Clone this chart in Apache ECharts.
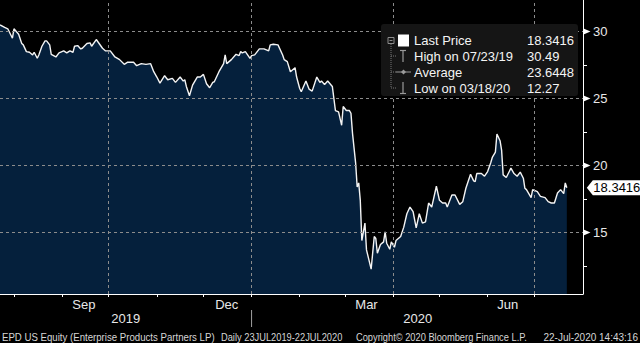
<!DOCTYPE html>
<html>
<head>
<meta charset="utf-8">
<script src="https://cdn.jsdelivr.net/npm/echarts@6/dist/echarts.min.js"></script>
<style>
html,body{margin:0;padding:0;background:#000;}
#chart{width:640px;height:343px;}
</style>
</head>
<body>
<div id="chart"></div>
<script>
// ---- data (EPD US Equity, daily close) ----
const dates = [
'2019-07-23','2019-07-26','2019-07-28','2019-07-31','2019-08-01','2019-08-04','2019-08-06','2019-08-07','2019-08-09','2019-08-11',
'2019-08-13','2019-08-14','2019-08-16','2019-08-17','2019-08-19','2019-08-21','2019-08-22','2019-08-24','2019-08-25','2019-08-28',
'2019-08-30','2019-09-02','2019-09-04','2019-09-06','2019-09-08','2019-09-09','2019-09-11','2019-09-13','2019-09-14','2019-09-17',
'2019-09-19','2019-09-20','2019-09-23','2019-09-27','2019-09-29','2019-10-02','2019-10-05','2019-10-08','2019-10-11','2019-10-13',
'2019-10-17','2019-10-19','2019-10-22','2019-10-25','2019-10-28','2019-10-30','2019-11-01','2019-11-03','2019-11-06','2019-11-08',
'2019-11-11','2019-11-13','2019-11-16','2019-11-18','2019-11-19','2019-11-20','2019-11-22','2019-11-24','2019-11-27','2019-11-29',
'2019-12-01','2019-12-03','2019-12-05','2019-12-07','2019-12-08','2019-12-11','2019-12-14','2019-12-15','2019-12-16','2019-12-19',
'2019-12-22','2019-12-24','2019-12-25','2019-12-26','2019-12-28','2019-12-31','2020-01-01','2020-01-03','2020-01-06','2020-01-09',
'2020-01-12','2020-01-13','2020-01-15','2020-01-18','2020-01-21','2020-01-22','2020-01-24','2020-01-26','2020-01-29','2020-01-30',
'2020-02-01','2020-02-02','2020-02-05','2020-02-07','2020-02-09','2020-02-12','2020-02-14','2020-02-15','2020-02-17','2020-02-19',
'2020-02-22','2020-02-23','2020-02-24','2020-02-26','2020-02-28','2020-02-29','2020-03-02','2020-03-04','2020-03-05','2020-03-06',
'2020-03-08','2020-03-09','2020-03-10','2020-03-11','2020-03-12','2020-03-14','2020-03-15','2020-03-18','2020-03-20','2020-03-21',
'2020-03-22','2020-03-24','2020-03-26','2020-03-27','2020-03-28','2020-03-30','2020-03-31','2020-04-02','2020-04-03','2020-04-06',
'2020-04-08','2020-04-10','2020-04-12','2020-04-14','2020-04-16','2020-04-18','2020-04-20','2020-04-22','2020-04-24','2020-04-26',
'2020-04-29','2020-05-01','2020-05-03','2020-05-05','2020-05-06','2020-05-09','2020-05-11','2020-05-14','2020-05-16','2020-05-18',
'2020-05-21','2020-05-23','2020-05-24','2020-05-25','2020-05-28','2020-05-30','2020-06-01','2020-06-03','2020-06-04','2020-06-06',
'2020-06-07','2020-06-09','2020-06-10','2020-06-11','2020-06-13','2020-06-16','2020-06-18','2020-06-20','2020-06-22','2020-06-24',
'2020-06-25','2020-06-26','2020-06-29','2020-06-30','2020-07-03','2020-07-05','2020-07-08','2020-07-10','2020-07-12','2020-07-14',
'2020-07-16','2020-07-18','2020-07-20','2020-07-21','2020-07-22'
];
const prices = [
30.49,30.3,30.2,29.5,30.2,29.8,29.1,29.0,28.5,28.45,
28.25,28.45,28.0,28.25,28.9,29.3,29.3,29.0,28.3,28.1,
28.4,28.55,28.4,28.55,28.45,28.9,28.95,28.7,28.75,29.1,
29.15,28.9,29.4,28.75,28.55,28.55,28.1,27.9,27.55,27.7,
27.7,27.45,27.6,27.55,27.6,27.0,26.6,26.15,26.7,26.4,
26.5,26.2,26.6,26.3,26.4,25.9,25.2,26.0,26.6,26.6,
26.8,26.1,25.8,26.2,26.25,27.0,27.6,28.25,27.6,27.9,
28.3,28.2,28.5,28.4,28.5,28.0,28.2,28.25,28.7,28.7,
28.55,29.0,29.05,29.0,28.25,27.9,27.75,27.0,27.3,26.6,
25.75,25.5,26.3,25.7,25.55,26.6,26.2,26.3,26.05,26.3,
25.9,25.0,24.1,24.0,23.0,24.4,24.1,24.1,23.9,22.4,
20.2,18.4,18.7,17.4,14.4,15.7,13.7,12.27,14.7,14.55,
13.45,14.1,14.3,15.05,14.2,13.75,14.3,13.9,14.4,14.7,
15.4,16.4,16.9,16.55,15.35,16.4,15.7,15.8,17.2,16.9,
18.45,17.4,17.2,17.2,16.9,17.8,17.8,17.1,17.3,18.3,
19.35,18.85,18.8,19.4,19.4,19.2,19.55,20.2,20.6,21.0,
22.35,21.85,21.15,19.3,19.1,19.8,19.4,19.2,19.5,19.05,
18.3,18.2,17.6,18.2,18.05,17.7,17.6,17.3,17.2,17.2,
17.95,18.2,17.9,18.7,18.3416
];
const yMajorTicks = [15, 20, 25, 30];
const yMinorTicks = [12.5, 17.5, 22.5, 27.5];
const monthStarts = ['2019-08-01','2019-09-01','2019-10-01','2019-11-01','2019-12-01','2020-01-01',
                     '2020-02-01','2020-03-01','2020-04-01','2020-05-01','2020-06-01','2020-07-01'];
const quarterStarts = ['2019-10-01','2020-01-01','2020-04-01','2020-07-01'];
const monthLabelDates = ['2019-09-15','2019-12-16','2020-03-15','2020-06-14'];
const monthLabelNames = ['Sep','Dec','Mar','Jun'];
const yearLabelDates = ['2019-10-12','2020-04-17'];
const yearLabelNames = ['2019','2020'];
const yearBreaks = ['2020-01-01'];
const legendNames = ['Last Price','High on 07/23/19','Average','Low on 03/18/20'];
const legendValues = ['18.3416','30.49','23.6448','12.27'];
const lastPriceText = '18.3416';
const footerTexts = ['EPD US Equity (Enterprise Products Partners LP)','Daily 23JUL2019-22JUL2020',
                     'Copyright\u00a9 2020 Bloomberg Finance L.P.','22-Jul-2020 14:43:16'];

// ---- helpers ----
function ts(s){ const p = s.split('-').map(Number); return new Date(p[0], p[1]-1, p[2]).getTime(); }
const xMin = ts('2019-07-23');
const xMax = ts('2020-08-01') + 10*3600*1000;
const seriesData = dates.map((d,i) => [ts(d), prices[i]]);
const lastPoint = seriesData[seriesData.length-1];
const monthLabelTs = monthLabelDates.map(ts);
const yearLabelTs = yearLabelDates.map(ts);

const FONT = '"Liberation Sans", Arial, sans-serif';

const chart = echarts.init(document.getElementById('chart'), null, {renderer:'svg', width:640, height:343});

// legend box (Bloomberg style) built from the legend arrays
const lg = {x:381, y:24, w:197, h:72};
const rowY = [40.5, 56, 72, 88];
const legendEls = [
  {type:'rect', shape:{x:lg.x, y:lg.y, width:lg.w, height:lg.h, r:3}, style:{fill:'#151515'}, z:100},
  {type:'rect', shape:{x:388, y:37.5, width:6, height:6}, style:{fill:'none', stroke:'#8c8c8c', lineWidth:1}, z:101},
  {type:'line', shape:{x1:389.5, y1:40.5, x2:392.5, y2:40.5}, style:{stroke:'#8c8c8c', lineWidth:1}, z:101},
  {type:'line', shape:{x1:391, y1:44, x2:391, y2:88}, style:{stroke:'#777', lineWidth:1, lineDash:[1,1]}, z:101},
  {type:'line', shape:{x1:391, y1:56, x2:396, y2:56}, style:{stroke:'#777', lineWidth:1, lineDash:[1,1]}, z:101},
  {type:'line', shape:{x1:391, y1:72, x2:396, y2:72}, style:{stroke:'#777', lineWidth:1, lineDash:[1,1]}, z:101},
  {type:'line', shape:{x1:391, y1:88, x2:396, y2:88}, style:{stroke:'#777', lineWidth:1, lineDash:[1,1]}, z:101},
  {type:'rect', shape:{x:398, y:34.5, width:11, height:12}, style:{fill:'#ffffff'}, z:101},
  {type:'line', shape:{x1:400, y1:50.5, x2:406, y2:50.5}, style:{stroke:'#9a9a9a', lineWidth:1.2}, z:101},
  {type:'line', shape:{x1:403, y1:50.5, x2:403, y2:62}, style:{stroke:'#9a9a9a', lineWidth:1.2}, z:101},
  {type:'line', shape:{x1:396, y1:72, x2:411, y2:72}, style:{stroke:'#9a9a9a', lineWidth:1}, z:101},
  {type:'polygon', shape:{points:[[403.5,69.5],[406,72],[403.5,74.5],[401,72]]}, style:{fill:'#9a9a9a'}, z:101},
  {type:'line', shape:{x1:403, y1:82, x2:403, y2:93.5}, style:{stroke:'#9a9a9a', lineWidth:1.2}, z:101},
  {type:'line', shape:{x1:400, y1:93.5, x2:406, y2:93.5}, style:{stroke:'#9a9a9a', lineWidth:1.2}, z:101}
];
legendNames.forEach((n,i) => {
  legendEls.push({type:'text', x:414, y:rowY[i], style:{text:n, fill:'#f4f4f4', font:'13px '+FONT, textVerticalAlign:'middle'}, z:102});
  legendEls.push({type:'text', x:527, y:rowY[i], style:{text:legendValues[i], fill:'#f4f4f4', font:'13px '+FONT, textVerticalAlign:'middle'}, z:102});
});
const footerX = [2, 221, 356, 638];
const footerAlign = ['left','left','left','right'];
const footerScale = [0.965, 0.93, 0.93, 1.0];
footerTexts.forEach((t,i) => {
  legendEls.push({type:'text', x:footerX[i], y:337, scaleX:footerScale[i],
    style:{text:t, fill:'#d6d6d6', font:'10px '+FONT, textVerticalAlign:'middle', textAlign:footerAlign[i]}, z:102});
});

// vertical year-separator segments, one per break, in a thin second grid
const sepData = [];
yearBreaks.forEach(d => { sepData.push([ts(d), 0], [ts(d), 1], [ts(d), null]); });

const option = {
  backgroundColor:'#000',
  animation:false,
  grid:[
    {left:0, top:0, right:57, bottom:49, containLabel:false},
    {left:0, top:310, right:57, height:17, containLabel:false}
  ],
  xAxis:[
    {
      type:'value', min:xMin, max:xMax, position:'bottom', gridIndex:0,
      axisLine:{show:true, onZero:false, lineStyle:{color:'#ffffff', width:1}},
      axisTick:{show:true, customValues:monthStarts.map(ts), length:3, lineStyle:{color:'#ffffff'}},
      axisLabel:{show:true, customValues:monthLabelTs, margin:4, color:'#e8e8e8', fontSize:13, fontFamily:FONT,
        formatter:function(v){ const i = monthLabelTs.indexOf(v); return i>=0 ? monthLabelNames[i] : ''; }},
      splitLine:{show:false}
    },
    {
      type:'value', min:xMin, max:xMax, position:'bottom', offset:16, gridIndex:0,
      axisLine:{show:false, onZero:false},
      axisTick:{show:false},
      axisLabel:{show:true, customValues:yearLabelTs, margin:2, color:'#e8e8e8', fontSize:13, fontFamily:FONT,
        formatter:function(v){ const i = yearLabelTs.indexOf(v); return i>=0 ? yearLabelNames[i] : ''; }},
      splitLine:{show:false}
    },
    {
      type:'value', min:xMin, max:xMax, gridIndex:1, show:false
    }
  ],
  yAxis:[
    {
      type:'value', position:'right', min:10.41, max:32.35, gridIndex:0,
      axisLine:{show:true, lineStyle:{color:'#ffffff', width:1}},
      axisTick:{show:true, customValues:yMinorTicks, length:4, lineStyle:{color:'#ffffff'}},
      axisLabel:{show:true, customValues:yMajorTicks, margin:10, color:'#e8e8e8', fontSize:13, fontFamily:FONT},
      splitLine:{show:false}
    },
    {
      type:'value', min:0, max:1, gridIndex:1, show:false
    }
  ],
  series:[{
    type:'line',
    xAxisIndex:0, yAxisIndex:0,
    data:seriesData,
    showSymbol:false,
    symbol:'none',
    lineStyle:{color:'#f4f4f4', width:1.4},
    areaStyle:{color:'#05203c', opacity:1, origin:'start'},
    markLine:{
      silent:true, symbol:['none','none'], label:{show:false},
      lineStyle:{color:'#8c8c8c', type:[3,3], width:1},
      data: yMajorTicks.map(v => ({yAxis:v})).concat(quarterStarts.map(d => ({xAxis:ts(d)})))
    },
    markPoint:{
      silent:true,
      data: yMajorTicks.map(v => ({
        coord:[xMax, v], symbol:'triangle', symbolRotate:-90, symbolSize:[6,7], symbolOffset:[4,0],
        itemStyle:{color:'#ffffff'}, label:{show:false}
      })).concat([{
        coord:[lastPoint[0], lastPoint[1]],
        symbol:'path://M0,7.5 L6,0 L54,0 L54,15 L6,15 Z', symbolKeepAspect:false,
        symbolSize:[54,15], symbolOffset:[47,0],
        itemStyle:{color:'#ffffff'},
        label:{show:true, formatter:lastPriceText, color:'#000', fontSize:13, fontFamily:FONT, position:'inside', offset:[3,0]}
      }])
    }
  },{
    type:'line',
    xAxisIndex:2, yAxisIndex:1,
    data:sepData,
    showSymbol:false,
    symbol:'none',
    silent:true,
    connectNulls:false,
    lineStyle:{color:'#a0a0a0', width:1}
  }],
  graphic: legendEls
};
chart.setOption(option);
</script>
</body>
</html>
